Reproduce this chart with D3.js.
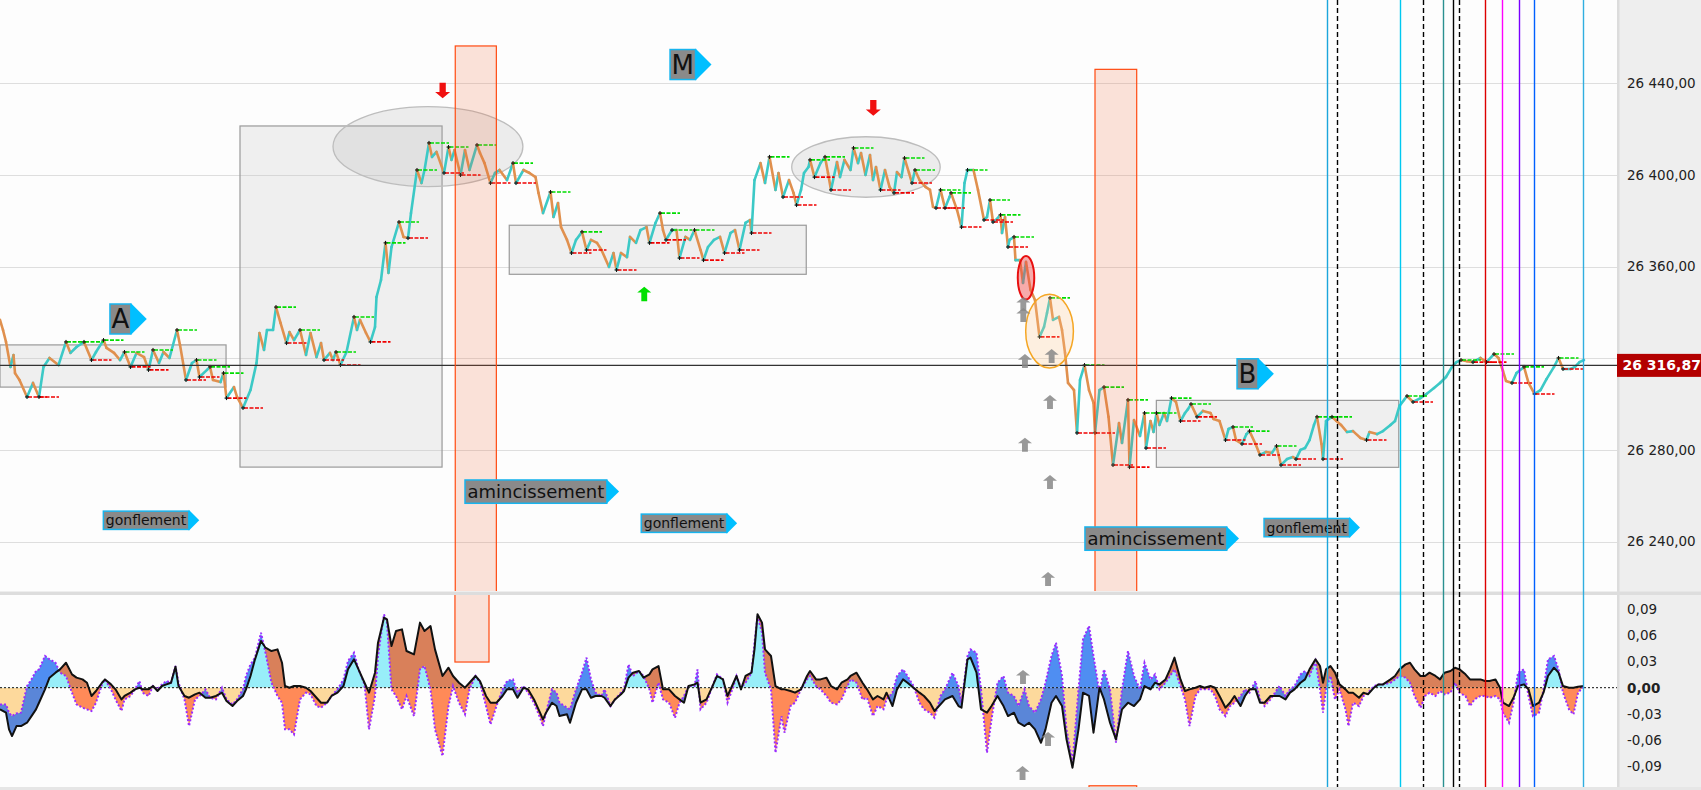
<!DOCTYPE html>
<html><head><meta charset="utf-8">
<script src="https://cdn.jsdelivr.net/npm/d3@7"></script>
<style>body{margin:0;background:#fff;}svg{display:block;font-family:"DejaVu Sans",sans-serif;}</style>
</head><body><svg id="c" width="1701" height="790"></svg>
<script>
// ---- DATA ----
// price path: [bar index, price]
const priceBars = [[0,26336.7],[2,26332.3],[4,26327.1],[7,26316.2],[9,26321.4],[10,26313.5],[13,26310.5],[18,26303.1],[22,26309.2],[26,26303.1],[29,26316.2],[33,26320.1],[39,26317.0],[44,26327.1],[47,26322.3],[51,26324.9],[56,26327.1],[61,26319.2],[64,26322.7],[69,26327.9],[71,26324.5],[76,26322.3],[80,26319.2],[83,26322.7],[87,26316.2],[91,26322.3],[96,26320.5],[99,26314.9],[102,26323.6],[106,26317.9],[109,26322.7],[113,26320.1],[118,26332.3],[120,26325.8],[124,26310.5],[128,26317.9],[131,26319.2],[133,26311.8],[138,26314.9],[140,26316.2],[142,26310.5],[147,26309.6],[149,26313.5],[151,26302.6],[156,26307.4],[158,26303.1],[162,26298.3],[167,26306.1],[171,26317.9],[173,26331.0],[176,26323.6],[178,26332.3],[182,26332.3],[184,26342.3],[187,26335.4],[191,26326.6],[193,26331.4],[196,26327.9],[200,26332.3],[204,26321.4],[207,26331.0],[211,26320.5],[214,26326.6],[216,26319.2],[220,26322.3],[222,26319.2],[224,26322.7],[227,26317.0],[231,26322.7],[236,26338.0],[238,26332.3],[240,26336.7],[244,26331.0],[247,26327.1],[250,26333.6],[251,26346.7],[254,26354.1],
[257,26370.3],[259,26357.2],[261,26368.5],[266,26379.4],[269,26372.9],[272,26372.4],[274,26383.3],[278,26402.1],[281,26396.4],[283,26402.1],[286,26413.9],[288,26407.8],[291,26410.0],[296,26400.8],[299,26412.1],[301,26406.5],[303,26410.8],[307,26399.9],[310,26410.8],[313,26402.1],[318,26413.0],[320,26409.5],[323,26405.1],[327,26396.4],[330,26400.8],[333,26402.1],[338,26397.7],[342,26405.1],[344,26396.4],[349,26402.1],[353,26400.8],[357,26399.0],[359,26392.1],[362,26383.3],[367,26392.5],[369,26381.6],[372,26387.7],[374,26377.2],[378,26371.6],[381,26365.9],[384,26371.6],[388,26375.1],[391,26367.2],[394,26371.6],[398,26370.3],[401,26367.2],[406,26359.8],[409,26365.9],[411,26358.5],[414,26365.9],[418,26364.1],[420,26372.9],[424,26370.3],[427,26375.9],[431,26377.2],[433,26370.3],[437,26379.0],[440,26383.3],[442,26375.9],[444,26371.6],[448,26375.9],[451,26375.9],[453,26363.7],[457,26372.9],[460,26371.6],[463,26375.9],[467,26367.2],[469,26362.8],[472,26368.5],[476,26371.6],[480,26372.9],[483,26365.9],[487,26374.6],[490,26375.9],[493,26367.2],[497,26379.0],[500,26380.3],[501,26374.6],[503,26397.7],[507,26405.1],
[510,26396.4],[513,26407.8],[517,26393.4],[519,26400.8],[522,26390.3],[526,26397.7],[529,26392.1],[531,26386.8],[534,26393.4],[536,26400.8],[539,26403.4],[540,26406.5],[543,26399.0],[547,26405.1],[550,26407.8],[552,26400.8],[554,26393.4],[558,26405.6],[560,26399.0],[563,26406.5],[567,26402.1],[569,26411.7],[572,26405.1],[574,26409.5],[577,26399.9],[580,26408.6],[582,26397.7],[584,26403.4],[587,26393.4],[590,26402.1],[593,26394.7],[596,26392.1],[598,26401.2],[601,26399.0],[603,26407.3],[606,26400.8],[608,26396.4],[610,26402.1],[613,26397.7],[617,26394.7],[620,26393.4],[622,26386.0],[624,26385.5],[627,26393.4],[630,26385.5],[633,26390.3],[634,26392.1],[638,26384.7],[641,26377.2],[643,26396.4],[645,26402.1],[649,26402.1],[652,26393.4],[656,26380.3],[658,26381.6],[660,26389.0],[662,26379.4],[664,26380.3],[667,26382.5],[668,26374.6],[670,26381.6],[672,26368.5],[673,26371.6],[676,26372.9],[677,26362.8],[680,26362.8],[682,26352.8],[684,26362.0],[687,26349.8],[690,26345.4],[693,26329.3],[696,26333.6],[698,26339.7],[700,26346.3],[702,26336.7],[706,26338.0],[708,26332.3],[710,26322.3],[712,26309.2],[716,26306.1],[718,26287.4],[720,26310.5],[723,26317.0],[726,26306.1],[729,26300.5],[730,26287.4],[733,26306.1],[736,26307.4],[739,26294.4],[742,26273.4],[746,26291.7],[748,26283.0],[752,26301.8],[753,26272.5],[756,26293.0],
[760,26286.1],[763,26296.1],[764,26280.8],[767,26292.6],[769,26287.8],[771,26296.1],[773,26290.9],[776,26296.1],[778,26292.6],[781,26302.6],[784,26300.9],[787,26292.6],[790,26296.1],[792,26297.8],[794,26300.0],[798,26294.4],[802,26297.0],[807,26296.1],[809,26293.5],[813,26292.6],[817,26284.3],[819,26289.1],[822,26290.0],[824,26284.3],[828,26282.6],[831,26286.9],[833,26288.2],[837,26282.6],[840,26277.8],[844,26279.1],[848,26278.7],[851,26281.7],[854,26273.4],[858,26276.0],[862,26276.9],[864,26276.0],[867,26280.0],[870,26280.8],[873,26284.3],[876,26290.9],[878,26294.4],[881,26282.6],[882,26276.0],[884,26292.6],[888,26294.4],[891,26292.6],[894,26290.9],[898,26287.8],[902,26288.2],[907,26285.2],[911,26284.3],[913,26287.8],[918,26286.9],[922,26288.2],[927,26290.9],[930,26292.6],[933,26299.2],[936,26301.8],[938,26303.5],[942,26300.9],[947,26302.6],[951,26304.4],[956,26307.0],[960,26309.2],[964,26311.8],[968,26316.2],[971,26318.3],[974,26319.2],[978,26318.7],[982,26318.3],[987,26320.1],[991,26318.3],[996,26321.8],[999,26320.1],[1002,26314.4],[1004,26310.1],[1008,26309.2],[1011,26313.5],[1016,26316.2],[1019,26309.2],[1023,26304.4],[1027,26306.1],[1031,26310.9],[1036,26316.2],[1039,26320.1],[1042,26315.3],[1047,26315.3],[1050,26316.2],[1053,26318.3],[1056,26319.2]];

// oscillator: [bar index, main line, signal line]
const oscillator = [[0,-0.0248,-0.0191],[4,-0.0286,-0.0191],[6,-0.0477,-0.0286],[8,-0.0554,-0.0325],[11,-0.0439,-0.0294],[14,-0.0439,-0.0286],[18,-0.0401,0.0019],[21,-0.0325,0.0095],[24,-0.0248,0.0191],[26,-0.0172,0.0210],[30,-0.0019,0.0363],[33,0.0115,0.0325],[37,0.0172,0.0286],[40,0.0210,0.0172],[44,0.0286,0.0134],[48,0.0153,-0.0057],[51,0.0115,-0.0191],[55,0.0095,-0.0229],[58,0.0057,-0.0248],[61,-0.0095,-0.0267],[64,-0.0038,-0.0172],[68,0.0057,0.0038],[70,0.0095,0.0095],[74,0.0038,-0.0019],[77,-0.0019,-0.0134],[81,-0.0134,-0.0267],[83,-0.0095,-0.0134],[87,-0.0057,-0.0095],[90,-0.0019,-0.0019],[93,0,0.0076],[95,-0.0019,-0.0057],[99,-0.0019,-0.0095],[102,0.0019,0.0019],[105,-0.0038,-0.0019],[108,0.0019,0.0038],[111,0.0038,0.0076],[114,0.0057,0.0057],[117,0.0241,0.0248],[119,0.0019,0.0057],[123,-0.0095,-0.0134],[126,-0.0115,-0.0439],[130,-0.0076,-0.0134],[133,-0.0057,-0.0095],[137,-0.0115,-0.0019],[140,-0.0115,-0.0115],[144,-0.0095,-0.0134],[148,-0.0057,0],[151,-0.0153,-0.0134],[155,-0.0210,-0.0191],[158,-0.0153,-0.0134],[162,-0.0095,-0.0019],[164,-0.0019,0.0134],[167,0.0134,0.0267],[170,0.0325,0.0344],[174,0.0535,0.0630],[177,0.0458,0.0401],[181,0.0420,0.0057],[185,0.0439,-0.0095],[188,0.0286,-0.0172],[190,0.0019,-0.0477],[193,0,-0.0477],[196,0.0019,-0.0535],[200,0.0019,-0.0134],[204,0,-0.0057],[207,-0.0038,-0.0076],[211,-0.0115,-0.0210],[214,-0.0172,-0.0229],[218,-0.0172,-0.0172],[221,-0.0095,-0.0095],[225,-0.0057,-0.0019],[229,0.0019,0.0095],[232,0.0210,0.0305],[236,0.0325,0.0401],[239,0.0210,0.0210],[243,0.0057,0.0038],[246,-0.0057,-0.0477],[250,0.0172,-0.0095],[252,0.0515,0.0363],[256,0.0802,0.0840],[258,0.0783,0.0745],[261,0.0477,-0.0019],[264,0.0649,-0.0095],[268,0.0668,-0.0248],[271,0.0420,-0.0095],[276,0.0382,-0.0325],[280,0.0745,0.0210],[283,0.0649,0.0248],[287,0.0706,-0.0019],[290,0.0439,-0.0477],[295,0.0134,-0.0783],[299,0.0229,-0.0210],[302,0.0134,0.0019],[306,0.0057,-0.0172],[310,0,-0.0305],[313,0.0057,-0.0019],[317,0.0134,0.0134],[320,0.0076,0.0057],[324,-0.0095,-0.0210],[327,-0.0172,-0.0420],[331,-0.0172,-0.0210],[335,-0.0095,-0.0019],[338,-0.0019,0.0076],[342,-0.0019,0.0095],[345,-0.0115,-0.0057],[349,0,0.0019],[352,-0.0019,-0.0057],[356,-0.0134,-0.0172],[360,-0.0286,-0.0344],[362,-0.0363,-0.0439],[364,-0.0286,-0.0286],[368,-0.0172,-0.0019],[371,-0.0210,-0.0057],
[373,-0.0325,-0.0172],[378,-0.0305,-0.0229],[380,-0.0401,-0.0248],[384,-0.0172,-0.0019],[388,-0.0019,0.0172],[391,-0.0019,0.0344],[394,-0.0115,0.0095],[397,-0.0095,-0.0057],[401,-0.0095,-0.0095],[403,-0.0115,-0.0019],[407,-0.0210,-0.0210],[410,-0.0134,-0.0134],[414,-0.0076,-0.0057],[416,-0.0038,-0.0019],[419,0.0115,0.0267],[422,0.0172,0.0134],[426,0.0191,0.0191],[429,0.0115,0.0134],[433,0.0153,-0.0019],[435,0.0210,-0.0172],[439,0.0248,0.0057],[442,-0.0019,-0.0134],[446,-0.0019,-0.0172],[450,-0.0095,-0.0344],[453,-0.0134,-0.0172],[456,-0.0172,-0.0095],[459,0.0019,0.0019],[463,0.0038,0.0019],[465,0.0057,0.0210],[467,-0.0172,-0.0248],[471,-0.0134,-0.0172],[475,0.0019,0.0019],[478,0.0134,0.0153],[482,0.0095,0.0095],[485,-0.0095,-0.0172],[489,0.0057,0.0019],[491,0.0134,0.0134],[494,-0.0019,0],[497,0.0134,0.0057],[501,0.0172,0.0172],[503,0.0439,0.0515],[505,0.0840,0.0821],[508,0.0745,0.0630],[510,0.0439,0.0172],[514,0.0363,-0.0019],[517,0.0019,-0.0745],[521,-0.0019,-0.0325],[523,-0.0019,-0.0515],[527,-0.0038,-0.0210],[530,-0.0057,-0.0172],[534,-0.0019,-0.0019],[538,0.0134,0.0095],[540,0.0191,0.0134],[544,0.0095,0.0019],[547,0.0095,-0.0019],[551,0.0115,-0.0095],[554,0.0019,-0.0172],[558,-0.0019,-0.0191],[561,0.0057,-0.0134],[565,0.0095,0.0019],[567,0.0134,0.0095],[571,0.0172,0.0057],[575,0.0057,-0.0134],[578,-0.0019,-0.0115],[582,-0.0134,-0.0325],[585,-0.0095,-0.0210],[589,-0.0134,-0.0248],[591,-0.0057,-0.0134],[595,-0.0210,-0.0057],[598,-0.0019,0.0134],[602,0.0095,0.0210],[605,0.0057,0.0134],[609,0,0.0019],[613,-0.0057,-0.0172],[616,-0.0095,-0.0248],[620,-0.0172,-0.0286],[623,-0.0267,-0.0344],[627,-0.0191,-0.0095],[630,-0.0134,-0.0019],[635,-0.0095,0.0172],[639,-0.0210,0.0019],[641,-0.0229,-0.0172],[645,0.0325,0.0363],[647,0.0344,0.0439],[651,0.0172,0.0401],[654,-0.0248,-0.0019],[658,-0.0286,-0.0745],[661,-0.0210,-0.0363],[665,-0.0095,0.0057],[669,-0.0210,0.0134],[672,-0.0325,-0.0057],[676,-0.0286,-0.0095],[679,-0.0401,-0.0210],[683,-0.0439,-0.0019],[686,-0.0401,-0.0210],[690,-0.0477,-0.0286],[694,-0.0630,-0.0134],[697,-0.0477,0.0057],[701,-0.0172,0.0363],[704,-0.0095,0.0515],[708,-0.0210,0.0134],[711,-0.0592,-0.0477],[715,-0.0916,-0.0859],[719,-0.0477,-0.0019],[722,-0.0057,0.0554],[726,-0.0095,0.0706],[729,-0.0515,0.0363],[733,0,-0.0057],[736,-0.0134,0.0210],[740,-0.0401,-0.0019],[744,-0.0592,-0.0630],
[748,-0.0248,-0.0019],[752,-0.0172,0.0420],[756,-0.0210,0.0134],[760,-0.0134,-0.0019],[763,0.0019,0.0286],[767,-0.0019,0.0095],[770,0.0057,0.0153],[773,0.0038,-0.0019],[777,0.0095,0.0057],[780,0.0210,0.0134],[783,0.0344,0.0210],[787,0.0095,0.0019],[790,-0.0038,-0.0134],[793,-0.0019,-0.0439],[797,0,-0.0095],[800,0.0019,-0.0019],[803,0,-0.0019],[807,0.0019,-0.0019],[810,0,-0.0095],[813,-0.0095,-0.0248],[817,-0.0229,-0.0325],[820,-0.0172,-0.0210],[823,-0.0095,-0.0172],[827,-0.0210,-0.0095],[830,-0.0095,-0.0019],[833,-0.0019,-0.0057],[837,-0.0019,0.0076],[840,-0.0172,-0.0134],[843,-0.0172,-0.0210],[847,-0.0095,-0.0134],[850,-0.0095,-0.0057],[853,-0.0095,0.0019],[857,-0.0134,-0.0095],[860,-0.0057,-0.0019],[863,-0.0019,0.0019],[867,0.0057,0.0153],[870,0.0095,0.0191],[873,0.0210,0.0134],[877,0.0325,0.0305],[880,0.0248,-0.0019],[882,0.0057,-0.0286],[884,0.0210,-0.0019],[887,0.0248,0.0134],[890,0.0172,-0.0134],[893,0.0038,-0.0019],[897,-0.0019,-0.0248],[899,-0.0057,-0.0439],[902,-0.0057,-0.0172],[906,-0.0115,-0.0210],[909,-0.0057,-0.0095],[912,-0.0076,-0.0057],[916,0,0.0019],[919,0.0038,0.0038],[922,0.0038,0.0038],[927,0.0095,0.0057],[930,0.0134,0.0095],[933,0.0210,0.0134],[937,0.0267,0.0115],[940,0.0286,0.0057],[943,0.0210,-0.0095],[947,0.0134,-0.0229],[950,0.0134,-0.0095],[953,0.0172,-0.0057],[957,0.0134,-0.0095],[960,0.0095,-0.0038],[963,0.0172,-0.0076],[967,0.0191,-0.0057],[970,0.0229,0.0057],[973,0.0210,-0.0057],[977,0.0153,-0.0095],[980,0.0095,-0.0210],[983,0.0095,-0.0134],[987,0.0095,-0.0095],[990,0.0076,-0.0095],[993,0.0076,-0.0115],[997,0.0095,-0.0095],[1000,0,-0.0134],[1002,-0.0172,-0.0286],[1006,-0.0210,-0.0401],[1009,-0.0115,-0.0172],[1012,0.0019,0.0172],[1016,0.0038,0.0210],[1019,-0.0019,-0.0095],[1022,-0.0210,-0.0325],[1026,-0.0172,-0.0286],[1029,-0.0057,-0.0019],[1032,0.0134,0.0325],[1036,0.0229,0.0363],[1039,0.0172,0.0210],[1042,0.0019,-0.0057],[1046,0,-0.0248],[1049,0,-0.0305],[1052,0.0011,-0.0057],[1056,0.0019,0.0019]];

const priceGridTicks = [26240, 26280, 26320, 26360, 26400, 26440];
const priceLabelTicks = [26240, 26280, 26360, 26400, 26440];
const oscTicks = [-0.09, -0.06, -0.03, 0, 0.03, 0.06, 0.09];
const lastPrice = 26316.87;

// annotations (bar index / price or oscillator value)
const grayBoxes = [[0,150.7,26325.8,26307.4],[160,294.7,26421.3,26272.5],[339.5,537.5,26378.0,26356.6],[770.9,932.5,26301.6,26272.4]];
const grayEllipses = [[285.3,26412.3,63.3,17.45],[577.3,26403.4,49.5,13.2]];
const redEllipses = [[684,26355.1,5.5,9.5]];
const orangeEllipses = [[699.7,26331.8,15.9,16.1]];
const priceZones = [[303.5,330.9,26456.2],[730,757.8,26446.0]];
const oscZones = [[303.3,326,0.12,0.0294],[726,757.8,-0.1123,-0.2]];
const letterMarks = [["A",73.3,26337.1],["M",446.7,26448.1],["B",824.7,26313.2]];
const phaseLabels = [["gonflement",68.9,26249.3,"s"],["amincissement",310,26261.8,"l"],["gonflement",427.5,26248.0,"s"],["amincissement",723.3,26241.3,"l"],["gonflement",842.7,26246.1,"s"]];
const downArrows = [[295.1,26433.4],[582.2,26425.8]];
const greenUpArrows = [[429.5,26351.2]];
const grayUpArrows = [[682.2,26346.7],[682.2,26341.9],[683.3,26321.8],[701.1,26324.0],[700,26303.9],[683.3,26285.3],[700,26269.0],[698.7,26226.7]];
const grayUpArrowsOsc = [[682,0.0203],[698.7,-0.0507],[681.7,-0.0897]];
const verticalMarks = [884.9, 891.1, 933.5, 948.9, 962.2, 968.9, 972.9, 990.2, 1001.5, 1012.9, 1022.9, 1055.5];

// ---- LAYOUT ----
const W = 1701, H = 790, plotR = 1617;
const pTop = 0, pBot = 591, oTop = 595, oBot = 787;
const vStyles = [
 {c:"#1ca6dc"},{c:"#000",d:"5,3"},{c:"#00c8f0"},{c:"#000",d:"5,3"},{c:"#2a9090"},{c:"#000"},
 {c:"#000",d:"5,3"},{c:"#dd0000"},{c:"#ff00ff"},{c:"#7a00ff"},{c:"#0060ff"},{c:"#30aee0"}];

const svg = d3.select("#c");
const x = d3.scaleLinear().domain([0,1056]).range([0,1584]);
const yP = d3.scaleLinear().domain([26240,26440]).range([541.6,83.1]);
const yO = d3.scaleLinear().domain([-0.09,0.09]).range([766.3,609.1]);
const fr = d3.formatLocale({decimal:",",thousands:" ",grouping:[3],currency:["","€"],minus:"-"});
const fmtP = fr.format(",.2f"), fmtO = fr.format(".2f");

const defs = svg.append("defs");
defs.append("clipPath").attr("id","clipP").append("rect").attr("x",0).attr("y",pTop).attr("width",plotR).attr("height",pBot-pTop);
defs.append("clipPath").attr("id","clipO").append("rect").attr("x",0).attr("y",oTop).attr("width",plotR).attr("height",oBot-oTop);
const z0 = yO(0);
defs.append("clipPath").attr("id","cPos").append("rect").attr("x",0).attr("y",oTop).attr("width",plotR).attr("height",z0-oTop);
defs.append("clipPath").attr("id","cNeg").append("rect").attr("x",0).attr("y",z0).attr("width",plotR).attr("height",oBot-z0);
defs.append("clipPath").attr("id","cAbove").append("path")
  .attr("d", d3.area().x(d=>x(d[0])).y0(0).y1(d=>yO(d[1]))(oscillator));
defs.append("clipPath").attr("id","cBelow").append("path")
  .attr("d", d3.area().x(d=>x(d[0])).y0(900).y1(d=>yO(d[1]))(oscillator));

// backgrounds
svg.append("rect").attr("width",W).attr("height",H).attr("fill","#ffffff");
svg.append("rect").attr("x",0).attr("y",pTop).attr("width",plotR).attr("height",pBot).attr("fill","#fdfdfd");
svg.append("rect").attr("x",0).attr("y",oTop).attr("width",plotR).attr("height",oBot-oTop).attr("fill","#fdfdfd");
svg.append("rect").attr("x",plotR).attr("y",0).attr("width",W-plotR).attr("height",H).attr("fill","#eeeeee");
svg.append("rect").attr("x",plotR).attr("y",0).attr("width",2.5).attr("height",H).attr("fill","#dcdcdc");
svg.append("rect").attr("x",0).attr("y",591.5).attr("width",W).attr("height",3.5).attr("fill","#dddddd");
svg.append("rect").attr("x",0).attr("y",787).attr("width",W).attr("height",3).attr("fill","#e6e6e6");

// ---- PRICE PANEL ----
const pg = svg.append("g").attr("clip-path","url(#clipP)");
pg.selectAll("line.grid").data(priceGridTicks).join("line").attr("class","grid")
  .attr("x1",0).attr("x2",plotR).attr("y1",d=>Math.round(yP(d))+0.5).attr("y2",d=>Math.round(yP(d))+0.5)
  .attr("stroke","#dedede").attr("stroke-width",1);

pg.selectAll("rect.box").data(grayBoxes).join("rect").attr("class","box")
  .attr("x",d=>x(d[0])).attr("y",d=>yP(d[2])).attr("width",d=>x(d[1])-x(d[0])).attr("height",d=>yP(d[3])-yP(d[2]))
  .attr("fill","rgba(190,190,190,0.22)").attr("stroke","#9a9a9a").attr("stroke-width",1.2);
const rxs = t => x(t)-x(0), rys = p => yP(26300)-yP(26300+p);
pg.selectAll("ellipse.g").data(grayEllipses).join("ellipse").attr("class","g")
  .attr("cx",d=>x(d[0])).attr("cy",d=>yP(d[1])).attr("rx",d=>rxs(d[2])).attr("ry",d=>rys(d[3]))
  .attr("fill","rgba(170,170,170,0.2)").attr("stroke","#bdbdbd").attr("stroke-width",1.3);

// price segments
const segs = d3.pairs(priceBars);
pg.selectAll("line.seg").data(segs).join("line").attr("class","seg")
  .attr("x1",d=>x(d[0][0])).attr("y1",d=>yP(d[0][1])).attr("x2",d=>x(d[1][0])).attr("y2",d=>yP(d[1][1]))
  .attr("stroke",d=>d[1][1]>=d[0][1]?"#3cc9c6":"#e0904e").attr("stroke-width",2.6).attr("stroke-linecap","round");

// swing markers derived from the series
const highs=[], lows=[];
for (let i=2;i<priceBars.length-2;i++){
  const w = priceBars.slice(i-2,i+3).map(d=>d[1]), p = priceBars[i][1];
  if (p===d3.max(w) && p>priceBars[i-1][1]) highs.push(priceBars[i]);
  if (p===d3.min(w) && p<priceBars[i-1][1]) lows.push(priceBars[i]);
}
function swing(data, color){
  pg.append("g").selectAll("line").data(data).join("line")
    .attr("x1",d=>x(d[0])+1).attr("x2",d=>x(d[0])+20).attr("y1",d=>yP(d[1])).attr("y2",d=>yP(d[1]))
    .attr("stroke",color).attr("stroke-width",1.6).attr("stroke-dasharray","4,1.5");
  const c = pg.append("g").selectAll("g").data(data).join("g").attr("transform",d=>`translate(${x(d[0])},${yP(d[1])})`);
  c.append("path").attr("d","M-2,0H2M0,-2V2").attr("stroke","#111").attr("stroke-width",1);
}
swing(highs,"#00dd00"); swing(lows,"#f00000");

pg.append("line").attr("x1",0).attr("x2",plotR).attr("y1",yP(lastPrice)).attr("y2",yP(lastPrice)).attr("stroke","#333").attr("stroke-width",1.1);

pg.selectAll("ellipse.r").data(redEllipses).join("ellipse").attr("class","r")
  .attr("cx",d=>x(d[0])).attr("cy",d=>yP(d[1])).attr("rx",d=>rxs(d[2])).attr("ry",d=>rys(d[3]))
  .attr("fill","rgba(240,70,70,0.45)").attr("stroke","#e81010").attr("stroke-width",2);
pg.selectAll("ellipse.o").data(orangeEllipses).join("ellipse").attr("class","o")
  .attr("cx",d=>x(d[0])).attr("cy",d=>yP(d[1])).attr("rx",d=>rxs(d[2])).attr("ry",d=>rys(d[3]))
  .attr("fill","rgba(255,200,140,0.25)").attr("stroke","#f5a623").attr("stroke-width",1.5);

// labels
function tag(g, label, X, Y, fs, h, pad, tw, th){
  const grp = g.append("g");
  const t = grp.append("text").attr("x",X+pad).attr("y",Y).attr("dy","0.36em").attr("font-size",fs).attr("fill","#111").text(label);
  const w = t.node().getComputedTextLength()+2*pad;
  grp.insert("rect","text").attr("x",X).attr("y",Y-h/2).attr("width",w).attr("height",h)
    .attr("fill","#8a8a8a").attr("stroke","#18b4ee").attr("stroke-width",1.5);
  grp.append("path").attr("d",`M${X+w},${Y-th/2}L${X+w+tw},${Y}L${X+w},${Y+th/2}Z`).attr("fill","#00bfff");
}
const lg = svg.append("g");
letterMarks.forEach(d=>tag(lg,d[0],x(d[1]),yP(d[2]),26,30,1.5,16,32));
phaseLabels.forEach(d=>{
  if (d[3]==="s") tag(lg,d[0],x(d[1]),yP(d[2]),14,18.3,2.5,10.5,21);
  else tag(lg,d[0],x(d[1]),yP(d[2]),18,23.3,2.5,12.3,24);
});

// tall zones
pg.selectAll("rect.zone").data(priceZones).join("rect").attr("class","zone")
  .attr("x",d=>x(d[0])).attr("y",d=>yP(d[2])).attr("width",d=>x(d[1])-x(d[0])).attr("height",d=>pBot+10-yP(d[2]))
  .attr("fill","rgba(240,100,50,0.18)").attr("stroke","#ff4a10").attr("stroke-width",1.2);

// arrows
function arrow(g, X, tipY, dir, color, w, h){
  const hh=h*0.4, sw=w*0.42, s=dir;
  const pts=[[X,tipY],[X+w/2,tipY+s*hh],[X+sw/2,tipY+s*hh],[X+sw/2,tipY+s*h],[X-sw/2,tipY+s*h],[X-sw/2,tipY+s*hh],[X-w/2,tipY+s*hh]];
  g.append("path").attr("d","M"+pts.map(p=>p.join(",")).join("L")+"Z").attr("fill",color);
}
const ag = svg.append("g");
downArrows.forEach(d=>arrow(ag,x(d[0]),yP(d[1]),-1,"#f01010",15,15.6));
greenUpArrows.forEach(d=>arrow(ag,x(d[0]),yP(d[1]),1,"#00e000",14,14.5));
grayUpArrows.forEach(d=>arrow(ag,x(d[0]),yP(d[1]),1,"rgba(135,135,135,0.85)",14,14));

// ---- OSCILLATOR PANEL ----
const og = svg.append("g").attr("clip-path","url(#clipO)");
const area0 = d3.area().x(d=>x(d[0])).y0(z0).y1(d=>yO(d[1]));
const areaAB = d3.area().x(d=>x(d[0])).y0(d=>yO(d[1])).y1(d=>yO(d[2]));
og.append("g").attr("clip-path","url(#cPos)").append("path").attr("d",area0(oscillator)).attr("fill","#98eef9");
og.append("g").attr("clip-path","url(#cNeg)").append("path").attr("d",area0(oscillator)).attr("fill","#fdd99c");
[["cPos","cAbove","#4f8ef2"],["cNeg","cAbove","#5a86d8"],["cPos","cBelow","#d9805a"],["cNeg","cBelow","#ff8a58"]].forEach(c=>{
  og.append("g").attr("clip-path",`url(#${c[0]})`).append("path").attr("d",areaAB(oscillator))
    .attr("clip-path",`url(#${c[1]})`).attr("fill",c[2]);
});
og.append("line").attr("x1",0).attr("x2",plotR).attr("y1",z0).attr("y2",z0).attr("stroke","#111").attr("stroke-width",1).attr("stroke-dasharray","2,2");
og.append("path").attr("d",d3.line().x(d=>x(d[0])).y(d=>yO(d[2]))(oscillator)).attr("fill","none")
  .attr("stroke","#9a2cff").attr("stroke-width",2).attr("stroke-dasharray","2,2");
og.append("path").attr("d",d3.line().x(d=>x(d[0])).y(d=>yO(d[1]))(oscillator)).attr("fill","none")
  .attr("stroke","#111").attr("stroke-width",2).attr("stroke-linejoin","round");
og.selectAll("rect.zone").data(oscZones).join("rect").attr("class","zone")
  .attr("x",d=>x(d[0])).attr("y",d=>yO(d[2])).attr("width",d=>x(d[1])-x(d[0])).attr("height",d=>yO(d[3])-yO(d[2]))
  .attr("fill","rgba(240,100,50,0.18)").attr("stroke","#ff4a10").attr("stroke-width",1.2);
grayUpArrowsOsc.forEach(d=>arrow(og,x(d[0]),yO(d[1]),1,"rgba(135,135,135,0.85)",14,14));

// vertical marks across both panels
const vg = svg.append("g");
vg.selectAll("line").data(verticalMarks).join("line")
  .attr("x1",d=>Math.round(x(d))+0.5).attr("x2",d=>Math.round(x(d))+0.5).attr("y1",0).attr("y2",oBot)
  .attr("stroke",(d,i)=>vStyles[i].c).attr("stroke-width",1.4).attr("stroke-dasharray",(d,i)=>vStyles[i].d||null);

// ---- AXES ----
const axP = svg.append("g").attr("transform",`translate(${plotR},0)`)
  .call(d3.axisRight(yP).tickValues(priceLabelTicks).tickSize(0).tickPadding(10).tickFormat(fmtP));
axP.select(".domain").remove();
axP.selectAll("text").attr("font-family","DejaVu Sans").attr("font-size",13.5).attr("fill","#222");
const axO = svg.append("g").attr("transform",`translate(${plotR},0)`)
  .call(d3.axisRight(yO).tickValues(oscTicks).tickSize(0).tickPadding(10).tickFormat(fmtO));
axO.select(".domain").remove();
axO.selectAll("text").attr("font-family","DejaVu Sans").attr("font-size",13.5).attr("fill","#222")
  .attr("font-weight",d=>d===0?"bold":null);

// last price label
const ly = yP(lastPrice);
svg.append("rect").attr("x",plotR).attr("y",ly-11.5).attr("width",W-plotR).attr("height",23).attr("fill","#b30000");
svg.append("text").attr("x",plotR+5.5).attr("y",ly).attr("dy","0.36em").attr("font-size",14).attr("font-weight","bold")
  .attr("fill","#ffffff").text(fmtP(lastPrice));
</script></body></html>
